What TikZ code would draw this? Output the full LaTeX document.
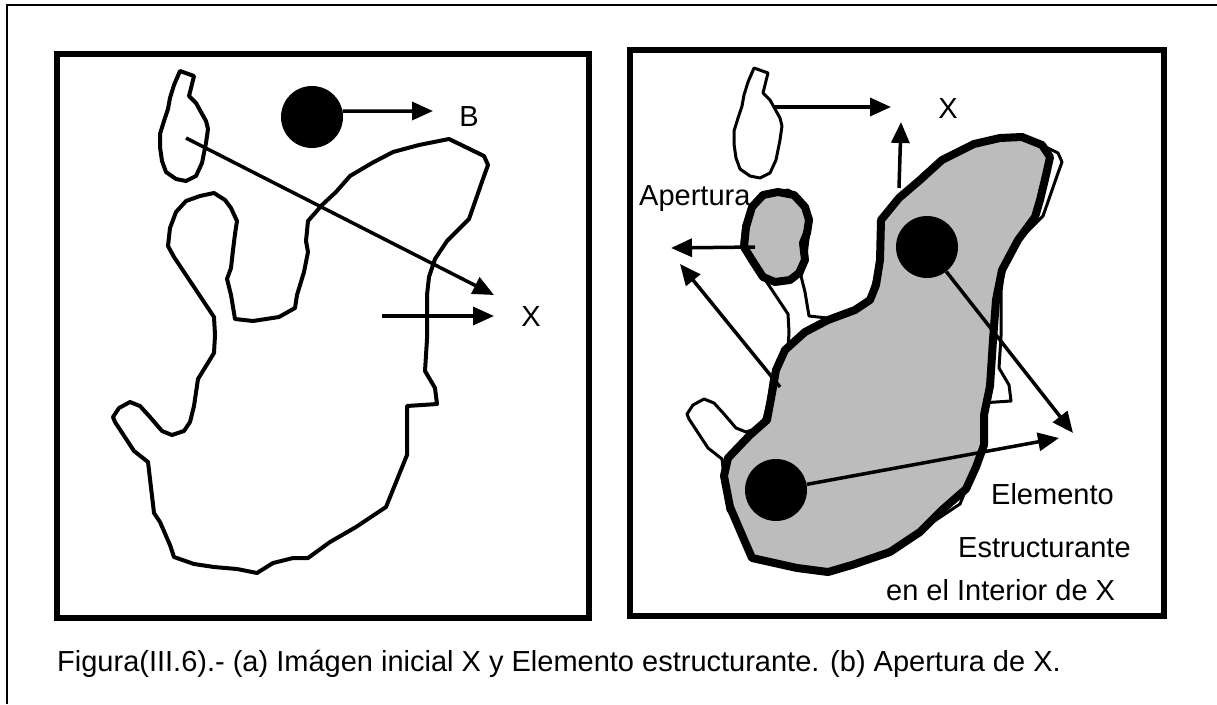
\documentclass[tikz,border=0pt]{standalone}
\usepackage{fontspec}
\setmainfont{Liberation Sans}
\usetikzlibrary{arrows.meta}
\definecolor{stipple}{RGB}{188,188,188}

% contornos de la imagen X (coordenadas del panel (a))
\newcommand{\islaX}{(180,71) -- (194,76) -- (189,96) -- (196,103) -- (206,121) -- (208,129) -- (206,143) -- (202,163) -- (196,176) -- (186,181) -- (176,179) -- (166,172) -- (162,161) -- (160,147) -- (160,134) -- (164,121) -- (168,109) -- (170,98) -- (174,85) -- cycle}
\newcommand{\cuerpoX}{(449,139) -- (484,156) -- (488,165) -- (484,176) -- (469,219) -- (447,241) -- (435,259) -- (429,277) -- (427,295) -- (427,339) -- (425,371) -- (435,388) -- (437,404) -- (407,406) -- (407,455) -- (386,507) -- (356,527) -- (330,542) -- (308,558) -- (293,558) -- (273,563) -- (257,573) -- (237,569) -- (214,567) -- (194,564) -- (174,557) -- (170,545) -- (160,522) -- (154,513) -- (148,462) -- (134,451) -- (115,422) -- (113,417) -- (119,408) -- (130,402) -- (140,406) -- (150,417) -- (162,431) -- (172,435) -- (184,431) -- (190,422) -- (194,406) -- (198,379) -- (206,366) -- (214,353) -- (215,335) -- (214,317) -- (202,299) -- (190,281) -- (174,257) -- (168,246) -- (170,228) -- (176,212) -- (186,201) -- (200,196) -- (214,193) -- (225,200) -- (231,208) -- (237,221) -- (235,234) -- (233,250) -- (231,268) -- (227,279) -- (231,295) -- (235,319) -- (253,321) -- (279,317) -- (295,308) -- (297,295) -- (304,272) -- (308,252) -- (306,241) -- (308,221) -- (322,205) -- (336,192) -- (350,176) -- (372,163) -- (393,152) -- (419,145) -- cycle}

\begin{document}
\begin{tikzpicture}[x=1pt,y=-1pt,
  panel/.style={line width=5.5pt},
  contorno/.style={line width=4pt,line join=round},
  fino/.style={line width=3pt,line join=round,fill=white},
  abierto/.style={line width=8pt,line join=round,fill=stipple},
  disco/.style={circle,fill=black,inner sep=0pt,minimum size=62pt},
  flecha/.style={line width=3.5pt,-{Triangle[length=21pt,width=18pt]}},
  rotulo/.style={font=\fontsize{29}{34}\selectfont,inner sep=0pt}]
    \useasboundingbox (0,0) rectangle (1217,704);

    % marco exterior y paneles
    \draw[line width=1.5pt] (7,704) -- (7,5) -- (1217,5);
    \draw[panel] (57,54) rectangle (589,618);
    \draw[panel] (630,50) rectangle (1164,616);

    % (a) imagen inicial X y elemento B
    \draw[contorno] \islaX;
    \draw[contorno] \cuerpoX;
    \node[disco] (b) at (312,117) {};
    \node[rotulo] (lb) at (469,117) {B};
    \node[rotulo] (lxa) at (531,317) {X};
    \path
     (433,111) coordinate (a1)
     (186,138) coordinate (a2)
     (494,295) coordinate (a3)
     (382,316) coordinate (a4)
     (494,316) coordinate (a5);
    \draw[flecha] (b.11) -- (a1);
    \draw[flecha] (a2) -- (a3);
    \draw[flecha] (a4) -- (a5);

    % (b) apertura de X
    \begin{scope}[shift={(574,-3)}]
      \draw[fino] \islaX;
      \draw[fino] \cuerpoX;
    \end{scope}
    \draw[abierto] (778,192) -- (794,195) -- (805,207) -- (809,220) -- (807,233) -- (803,243) -- (805,260) -- (799,273) -- (790,280) -- (775,282) -- (763,277) -- (752,260) -- (744,247) -- (746,227) -- (752,207) -- (763,195) -- cycle;
    \draw[abierto] (1000,138) -- (1022,137) -- (1042,145) -- (1050,157) -- (1046,175) -- (1040,200) -- (1035,217) -- (1018,240) -- (1002,270) -- (996,300) -- (993,340) -- (990,386) -- (984,415) -- (984,445) -- (976,467) -- (966,489) -- (942,510) -- (920,532) -- (890,552) -- (852,565) -- (828,572) -- (797,568) -- (752,558) -- (742,535) -- (730,507) -- (724,476) -- (728,458) -- (750,435) -- (767,420) -- (772,393) -- (776,370) -- (785,350) -- (805,332) -- (828,320) -- (855,310) -- (870,300) -- (876,285) -- (880,260) -- (881,220) -- (899,198) -- (920,180) -- (942,160) -- (974,144) -- cycle;
    \node[disco] (d1) at (927,247) {};
    \node[disco] (d2) at (776,490) {};
    \path
     (775,107) coordinate (c1) (891,107) coordinate (c2)
     (899,188) coordinate (c3) (901,122) coordinate (c4)
     (755,247) coordinate (c5) (671,248) coordinate (c6)
     (780,387) coordinate (c7) (680,264) coordinate (c8)
     (1073,433) coordinate (c9) (1059,438) coordinate (c10);
    \draw[flecha] (c1) -- (c2);
    \draw[flecha] (c3) -- (c4);
    \draw[flecha] (c5) -- (c6);
    \draw[flecha] (c7) -- (c8);
    \draw[flecha] (d1) -- (c9);
    \draw[flecha] (d2) -- (c10);

    % rotulos
    \node[rotulo] (lxb) at (948,109) {X};
    \node[rotulo,anchor=base west] (lap) at (639,205) {Apertura};
    \node[rotulo,anchor=base west] (le1) at (991,504) {Elemento};
    \node[rotulo,anchor=base west] (le2) at (958,557) {Estructurante};
    \node[rotulo,anchor=base west] (le3) at (886,600) {en el Interior de X};

    \node[rotulo,anchor=base west] (cap) at (57,671) {Figura(III.6).- (a) Imágen inicial X y Elemento estructurante. (b) Apertura de X.};
\end{tikzpicture}
\end{document}
